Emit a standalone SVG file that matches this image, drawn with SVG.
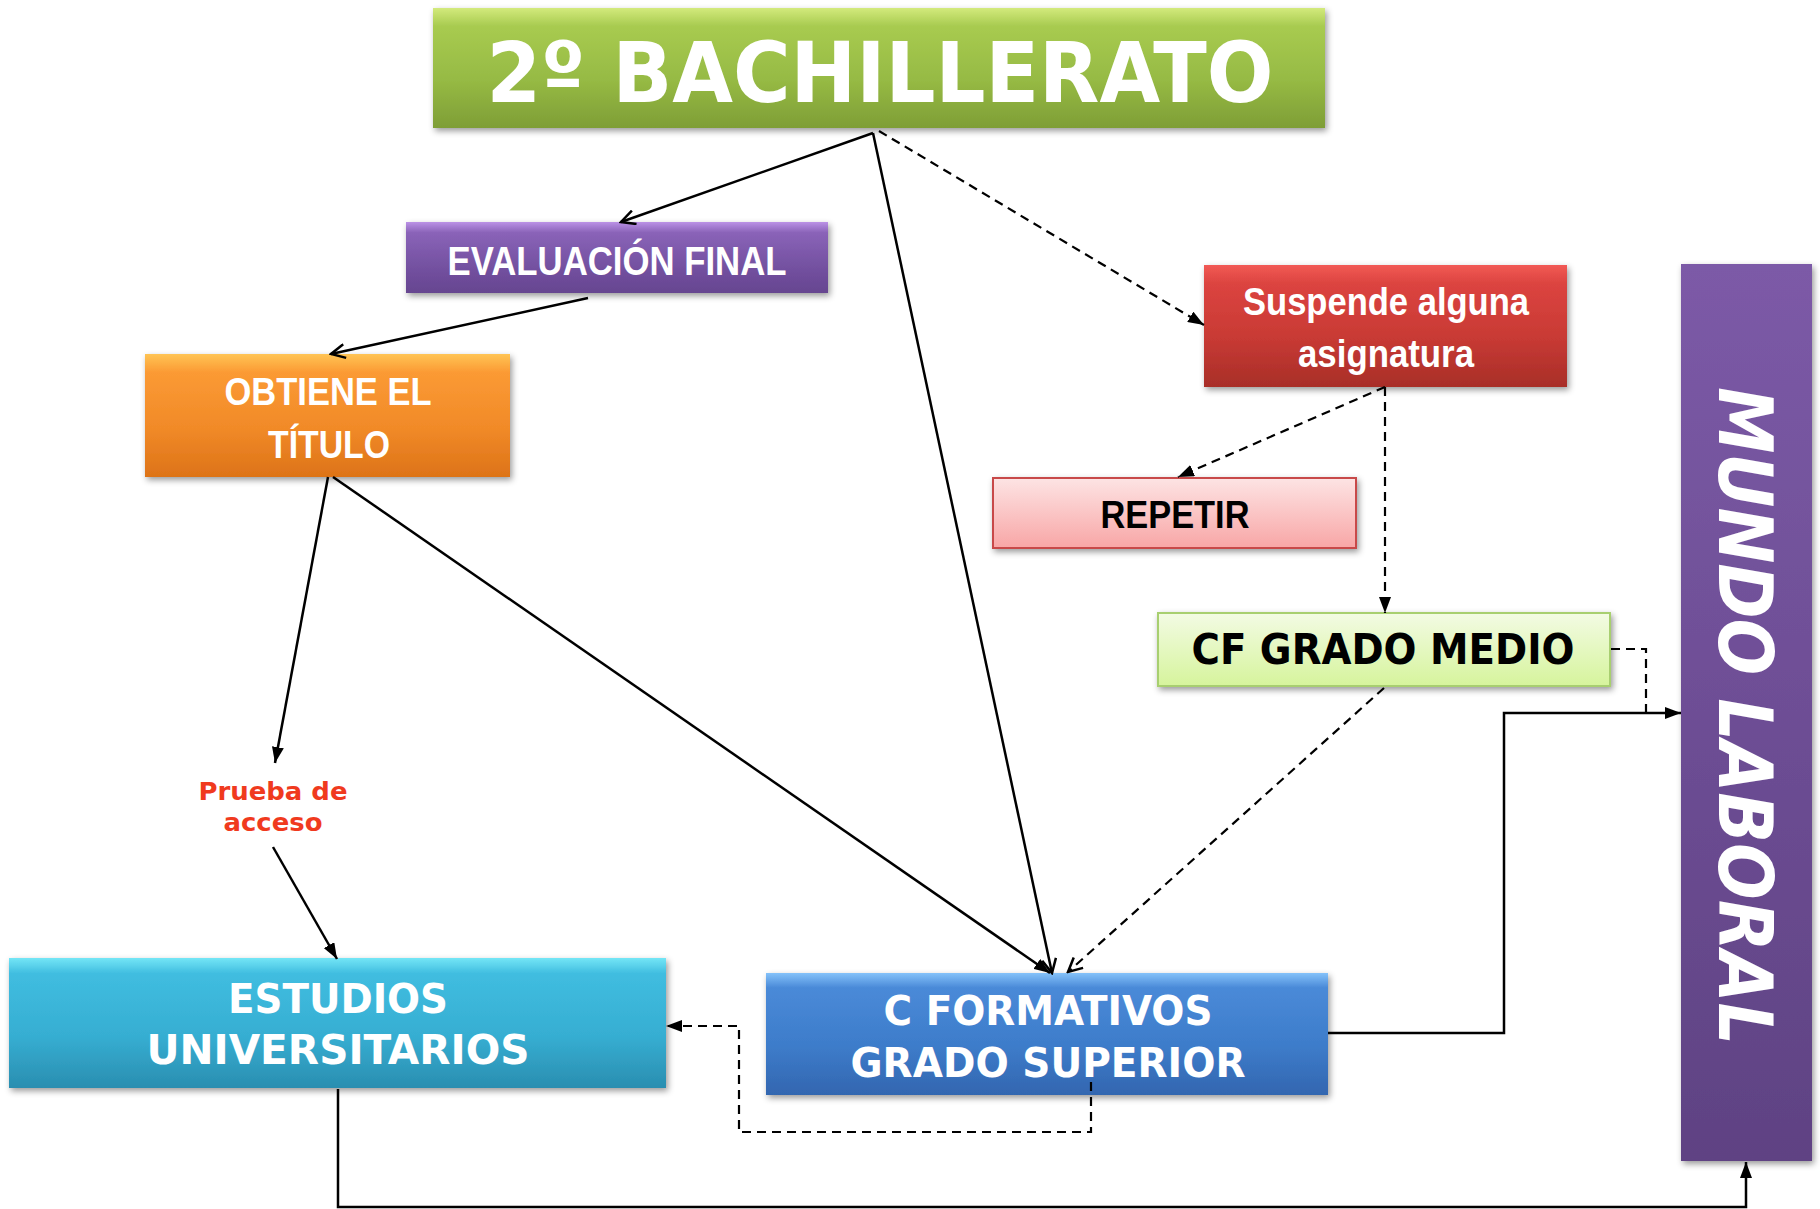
<svg xmlns="http://www.w3.org/2000/svg" width="1820" height="1209" viewBox="0 0 1820 1209">
<defs>
<style>
.wt{fill:#fff;font-weight:bold;text-anchor:middle}
.nar{font-family:"Liberation Sans Narrow","Liberation Sans",Arial,sans-serif}
.cond{font-family:"DejaVu Sans Condensed","DejaVu Sans",sans-serif;font-stretch:condensed}
.ln{fill:none;stroke:#000;stroke-width:2.5}
.dash{fill:none;stroke:#000;stroke-width:2.2;stroke-dasharray:9 6}
</style>
<filter id="sh" x="-10%" y="-10%" width="120%" height="130%">
<feDropShadow dx="2" dy="3" stdDeviation="3" flood-color="#000" flood-opacity="0.4"/>
</filter>
<linearGradient id="gT" x1="0" y1="0" x2="0" y2="1"><stop offset="0" stop-color="#d3ea7c"/><stop offset="0.15" stop-color="#a8cb50"/><stop offset="0.6" stop-color="#96ba44"/><stop offset="1" stop-color="#7e9e36"/></linearGradient>
<linearGradient id="gE" x1="0" y1="0" x2="0" y2="1"><stop offset="0" stop-color="#bb92e6"/><stop offset="0.15" stop-color="#8a63b8"/><stop offset="0.6" stop-color="#7552a2"/><stop offset="1" stop-color="#664590"/></linearGradient>
<linearGradient id="gO" x1="0" y1="0" x2="0" y2="1"><stop offset="0" stop-color="#ffc454"/><stop offset="0.15" stop-color="#fb9a34"/><stop offset="0.6" stop-color="#f18a28"/><stop offset="1" stop-color="#dd7318"/></linearGradient>
<linearGradient id="gS" x1="0" y1="0" x2="0" y2="1"><stop offset="0" stop-color="#f25a55"/><stop offset="0.15" stop-color="#dc4440"/><stop offset="0.6" stop-color="#c83a34"/><stop offset="1" stop-color="#a82e28"/></linearGradient>
<linearGradient id="gR" x1="0" y1="0" x2="0" y2="1"><stop offset="0" stop-color="#fde4e4"/><stop offset="1" stop-color="#f8a6a6"/></linearGradient>
<linearGradient id="gM" x1="0" y1="0" x2="0" y2="1"><stop offset="0" stop-color="#f3fbe4"/><stop offset="1" stop-color="#d6f49c"/></linearGradient>
<linearGradient id="gU" x1="0" y1="0" x2="0" y2="1"><stop offset="0" stop-color="#74e6f6"/><stop offset="0.12" stop-color="#40bde0"/><stop offset="0.6" stop-color="#36aed2"/><stop offset="1" stop-color="#2a8eb0"/></linearGradient>
<linearGradient id="gF" x1="0" y1="0" x2="0" y2="1"><stop offset="0" stop-color="#84c2fa"/><stop offset="0.12" stop-color="#4a8ad8"/><stop offset="0.6" stop-color="#3d7cca"/><stop offset="1" stop-color="#3366b0"/></linearGradient>
<linearGradient id="gL" x1="0" y1="0" x2="0" y2="1"><stop offset="0" stop-color="#7c5aa7"/><stop offset="1" stop-color="#5f4283"/></linearGradient>
<marker id="tri" viewBox="0 0 16 12" refX="16" refY="6" markerWidth="16" markerHeight="12" markerUnits="userSpaceOnUse" orient="auto"><path d="M0,0 L16,6 L0,12 Z" fill="#000"/></marker>
<marker id="vee" viewBox="0 0 18 16" refX="16" refY="8" markerWidth="18" markerHeight="16" markerUnits="userSpaceOnUse" orient="auto"><path d="M2,1 L16,8 L2,15" fill="none" stroke="#000" stroke-width="2.5"/></marker>
</defs>
<rect width="1820" height="1209" fill="#fff"/>

<g id="bachillerato">
<rect x="433" y="8" width="892" height="120" fill="url(#gT)" filter="url(#sh)"/>
<text class="wt cond" x="880" y="102" font-size="84" textLength="787" lengthAdjust="spacingAndGlyphs">2º BACHILLERATO</text>
</g>
<g id="evaluacion">
<rect x="406" y="222" width="422" height="71" fill="url(#gE)" filter="url(#sh)"/>
<text class="wt nar" x="617" y="275" font-size="41" textLength="339" lengthAdjust="spacingAndGlyphs">EVALUACIÓN FINAL</text>
</g>
<g id="obtiene">
<rect x="145" y="354" width="365" height="123" fill="url(#gO)" filter="url(#sh)"/>
<text class="wt nar" x="328" y="405" font-size="38" textLength="207" lengthAdjust="spacingAndGlyphs">OBTIENE EL</text>
<text class="wt nar" x="329" y="458" font-size="38" textLength="122" lengthAdjust="spacingAndGlyphs">TÍTULO</text>
</g>
<g id="suspende">
<rect x="1204" y="265" width="363" height="122" fill="url(#gS)" filter="url(#sh)"/>
<text class="wt nar" x="1386" y="315" font-size="38" textLength="286" lengthAdjust="spacingAndGlyphs">Suspende alguna</text>
<text class="wt nar" x="1386" y="367" font-size="38" textLength="176" lengthAdjust="spacingAndGlyphs">asignatura</text>
</g>
<g id="repetir">
<rect x="993" y="478" width="363" height="70" fill="url(#gR)" stroke="#c84848" stroke-width="2" filter="url(#sh)"/>
<text class="nar" x="1175" y="528" font-size="39" font-weight="bold" text-anchor="middle" fill="#000" textLength="149" lengthAdjust="spacingAndGlyphs">REPETIR</text>
</g>
<g id="cf-medio">
<rect x="1158" y="613" width="452" height="73" fill="url(#gM)" stroke="#a8cf70" stroke-width="2" filter="url(#sh)"/>
<text class="cond" x="1383" y="664" font-size="43" font-weight="bold" text-anchor="middle" fill="#000" textLength="383" lengthAdjust="spacingAndGlyphs">CF GRADO MEDIO</text>
</g>
<g id="prueba">
<text font-family="'DejaVu Sans',Verdana,sans-serif" font-weight="bold" font-size="25" fill="#f03a1e" text-anchor="middle"><tspan x="273" y="800" textLength="149" lengthAdjust="spacingAndGlyphs">Prueba de</tspan><tspan x="273" y="831" textLength="99" lengthAdjust="spacingAndGlyphs">acceso</tspan></text>
</g>
<g id="estudios">
<rect x="9" y="958" width="657" height="130" fill="url(#gU)" filter="url(#sh)"/>
<text class="wt cond" x="338" y="1013" font-size="41" textLength="220" lengthAdjust="spacingAndGlyphs">ESTUDIOS</text>
<text class="wt cond" x="338" y="1064" font-size="41" textLength="383" lengthAdjust="spacingAndGlyphs">UNIVERSITARIOS</text>
</g>
<g id="cf-superior">
<rect x="766" y="973" width="562" height="122" fill="url(#gF)" filter="url(#sh)"/>
<text class="wt cond" x="1048" y="1025" font-size="41" textLength="329" lengthAdjust="spacingAndGlyphs">C FORMATIVOS</text>
<text class="wt cond" x="1048" y="1077" font-size="41" textLength="395" lengthAdjust="spacingAndGlyphs">GRADO SUPERIOR</text>
</g>
<g id="mundo-laboral">
<rect x="1681" y="264" width="131" height="897" fill="url(#gL)" filter="url(#sh)"/>
<text class="wt cond" font-style="italic" transform="translate(1719,716) rotate(90)" x="0" y="0" font-size="74" textLength="658" lengthAdjust="spacingAndGlyphs">MUNDO LABORAL</text>
</g>

<g id="connectors">
<path class="ln" d="M873,133 L621,222" marker-end="url(#vee)"/>
<path class="ln" d="M588,298 L331,354" marker-end="url(#vee)"/>
<path class="ln" d="M873,133 L1052,973" marker-end="url(#vee)"/>
<path class="dash" d="M879,131 L1204,325" marker-end="url(#tri)"/>
<path class="ln" d="M328,477 L275,763" marker-end="url(#tri)"/>
<path class="ln" d="M333,477 L1050,973" marker-end="url(#tri)"/>
<path class="ln" d="M273,847 L337,959" marker-end="url(#tri)"/>
<path class="dash" d="M1385,387 L1178,477" marker-end="url(#tri)"/>
<path class="dash" d="M1385,387 L1385,613" marker-end="url(#tri)"/>
<path class="dash" d="M1384,688 L1068,972" marker-end="url(#vee)"/>
<path class="dash" d="M1611,649 L1646,649 L1646,713"/>
<path class="ln" d="M1328,1033 L1504,1033 L1504,713 L1681,713" marker-end="url(#tri)"/>
<path class="dash" d="M1091,1082 L1091,1132 L739,1132 L739,1026 L666,1026" marker-end="url(#tri)"/>
<path class="ln" d="M338,1089 L338,1207 L1746,1207 L1746,1162" marker-end="url(#tri)"/>
</g>
</svg>
